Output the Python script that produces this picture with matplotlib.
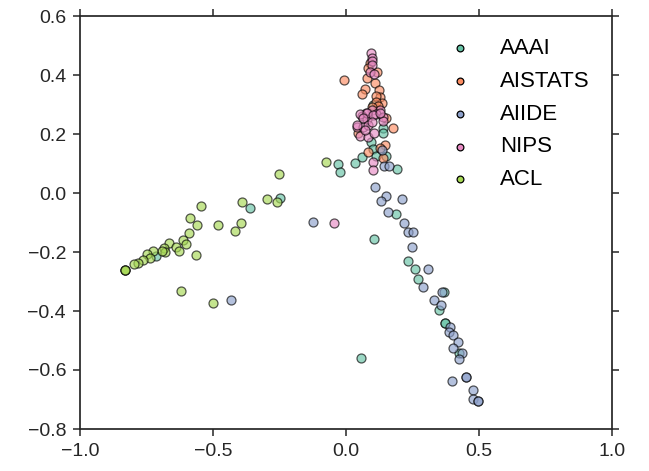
import numpy as np
import matplotlib
matplotlib.use('Agg')
import matplotlib.pyplot as plt

plt.rcParams['font.family'] = ['Liberation Sans', 'DejaVu Sans']

venues = ['AAAI', 'AISTATS', 'AIIDE', 'NIPS', 'ACL']
colors = ['#66c2a5', '#fc8d62', '#8da0cb', '#e78ac3', '#a6d854']

aaai_x = [-0.248, -0.361, -0.714, -0.030, -0.023, 0.034, 0.192, 0.188, 0.105, 0.233,
          0.259, 0.271, 0.368, 0.350, 0.372, 0.372, 0.425, 0.056, 0.102, 0.139,
          0.139, 0.094, 0.102, 0.060, 0.113, 0.150]
aaai_y = [-0.017, -0.051, -0.214, 0.098, 0.071, 0.102, 0.081, -0.071, -0.156, -0.231,
          -0.258, -0.292, -0.336, -0.397, -0.441, -0.441, -0.542, -0.559, 0.298, 0.220,
          0.203, 0.173, 0.149, 0.122, 0.125, 0.125]

aistats_x = [-0.008, 0.090, 0.083, 0.117, 0.079, 0.109, 0.071, 0.060, 0.124, 0.128,
             0.113, 0.135, 0.113, 0.150, 0.177, 0.045, 0.147, 0.128, 0.083, 0.139,
             0.120, 0.098]
aistats_y = [0.383, 0.441, 0.424, 0.410, 0.390, 0.373, 0.353, 0.336, 0.349, 0.325,
             0.329, 0.305, 0.308, 0.254, 0.220, 0.203, 0.163, 0.153, 0.139, 0.119,
             0.295, 0.292]

aiide_x = [-0.124, -0.432, 0.135, 0.143, 0.162, 0.109, 0.150, 0.132, 0.211, 0.158,
           0.218, 0.233, 0.252, 0.248, 0.308, 0.289, 0.361, 0.331, 0.357, 0.391,
           0.387, 0.402, 0.421, 0.402, 0.436, 0.425, 0.451, 0.451, 0.398, 0.477,
           0.477, 0.496, 0.496]
aiide_y = [-0.098, -0.363, 0.146, 0.092, 0.092, 0.020, -0.010, -0.027, -0.020, -0.064,
           -0.102, -0.132, -0.132, -0.183, -0.258, -0.319, -0.336, -0.363, -0.380, -0.454,
           -0.471, -0.481, -0.505, -0.525, -0.542, -0.563, -0.624, -0.624, -0.637, -0.668,
           -0.698, -0.705, -0.705]

nips_x = [-0.045, 0.102, 0.102, 0.094, 0.098, 0.098, 0.098, 0.090, 0.105, 0.098,
          0.128, 0.075, 0.113, 0.139, 0.060, 0.079, 0.139, 0.041, 0.064, 0.083,
          0.053, 0.083, 0.105, 0.053, 0.079, 0.102, 0.128, 0.064, 0.098, 0.071,
          0.041]
nips_y = [-0.102, 0.105, 0.078, 0.475, 0.458, 0.447, 0.434, 0.410, 0.403, 0.281,
          0.281, 0.271, 0.268, 0.258, 0.261, 0.251, 0.244, 0.224, 0.224, 0.231,
          0.193, 0.190, 0.203, 0.268, 0.271, 0.264, 0.271, 0.254, 0.241, 0.214,
          0.231]

acl_x = [-0.252, -0.259, -0.297, -0.391, -0.545, -0.586, -0.560, -0.481, -0.395, -0.417,
         -0.590, -0.613, -0.602, -0.665, -0.639, -0.628, -0.684, -0.680, -0.692, -0.726,
         -0.748, -0.737, -0.763, -0.782, -0.797, -0.831, -0.831, -0.831, -0.564, -0.620,
         -0.500, -0.075]
acl_y = [0.064, -0.031, -0.020, -0.031, -0.044, -0.085, -0.108, -0.108, -0.102, -0.129,
         -0.136, -0.159, -0.173, -0.169, -0.183, -0.197, -0.186, -0.200, -0.197, -0.197,
         -0.207, -0.220, -0.227, -0.237, -0.241, -0.261, -0.261, -0.261, -0.210, -0.332,
         -0.373, 0.105]

xs = [aaai_x, aistats_x, aiide_x, nips_x, acl_x]
ys = [aaai_y, aistats_y, aiide_y, nips_y, acl_y]

fig = plt.figure(figsize=(6.49, 4.71), dpi=100)
ax = fig.add_axes([80/649, 42/471, 532/649, 413/471])

for name, c, x, y in zip(venues, colors, xs, ys):
    ax.scatter(x, y, s=42, color=c, alpha=0.65, edgecolors='black', linewidths=0.9, label=name)

ax.set_xlim(-1.0, 1.0)
ax.set_ylim(-0.8, 0.6)
ax.set_xticks(np.arange(-1.0, 1.01, 0.5))
ax.set_yticks(np.arange(-0.8, 0.61, 0.2))
ax.tick_params(direction='out', length=5, width=1.1, colors='#262626', labelsize=14,
               top=True, right=True, labeltop=False, labelright=False, pad=5)
for sp in ax.spines.values():
    sp.set_color('#262626')
    sp.set_linewidth(1.25)

leg = ax.legend(loc='upper left', bbox_to_anchor=(0.656, 0.968), borderaxespad=0,
                frameon=False, scatterpoints=1, fontsize=16, labelspacing=0.53,
                markerscale=0.75)
for h in leg.legend_handles:
    h.set_alpha(1)

fig.savefig('out.png', dpi=100)
